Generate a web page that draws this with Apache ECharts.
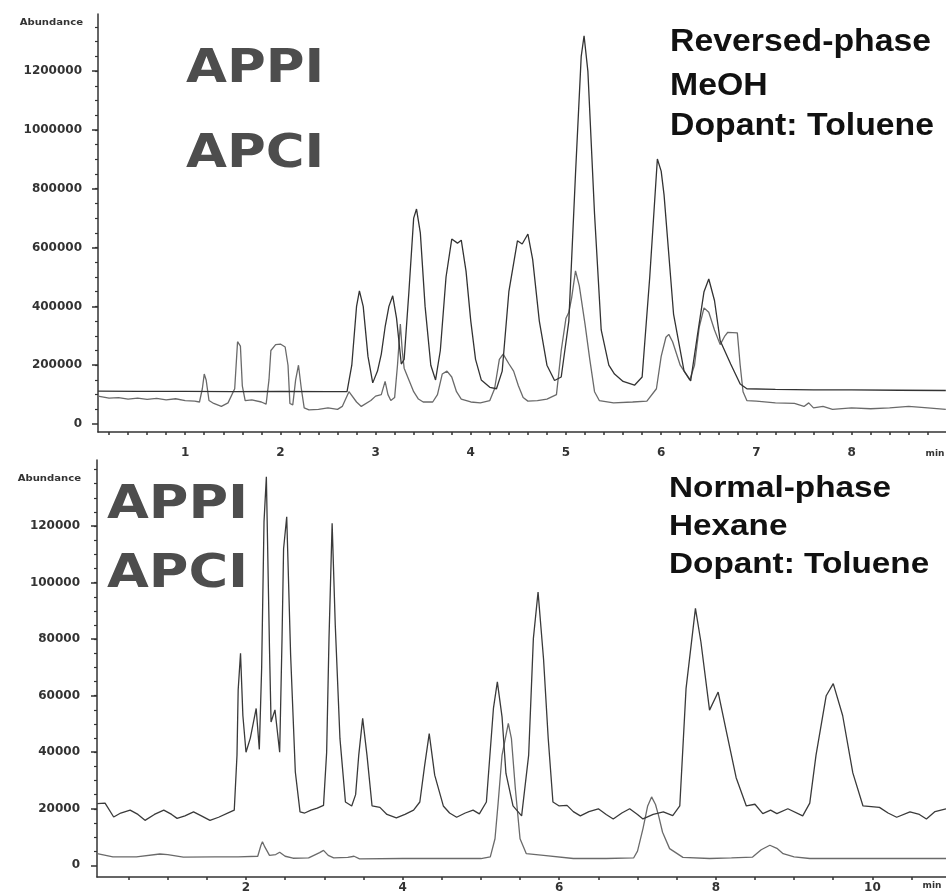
<!DOCTYPE html>
<html>
<head>
<meta charset="utf-8">
<script src="https://cdn.jsdelivr.net/npm/echarts@6/dist/echarts.min.js"></script>
<style>
  html, body { margin: 0; padding: 0; background: #fff; }
  #chart { width: 946px; height: 894px; }
</style>
</head>
<body>
<div id="chart"></div>
<script>
// reversed-phase run (MeOH), [time min, abundance]
const rpAppi = [
  [0.084, 112000], [0.5, 111000], [1.0, 111000], [1.5, 110000], [2.0, 111000], [2.5, 110000], [2.7, 110000],
  [2.75, 200000], [2.8, 400000], [2.83, 453000], [2.87, 400000], [2.92, 230000], [2.97, 140000], [3.02, 180000],
  [3.06, 238000], [3.1, 330000], [3.14, 400000], [3.18, 436000], [3.22, 360000], [3.27, 204000], [3.3, 220000],
  [3.35, 450000], [3.4, 700000], [3.43, 731000], [3.47, 650000], [3.52, 400000], [3.58, 200000], [3.63, 150000],
  [3.68, 250000], [3.74, 500000], [3.8, 629000], [3.86, 615000], [3.9, 625000], [3.95, 520000], [4.0, 350000],
  [4.05, 220000], [4.11, 150000], [4.2, 125000], [4.27, 120000], [4.33, 180000], [4.4, 450000], [4.49, 623000],
  [4.54, 612000], [4.6, 646000], [4.65, 560000], [4.72, 350000], [4.8, 200000], [4.88, 148000], [4.95, 160000],
  [5.03, 350000], [5.1, 850000], [5.16, 1250000], [5.19, 1320000], [5.23, 1200000], [5.3, 714000], [5.37, 320000],
  [5.45, 200000], [5.51, 170000], [5.6, 145000], [5.72, 132000], [5.8, 160000], [5.88, 500000], [5.96, 901000],
  [6.0, 860000], [6.03, 780000], [6.13, 374000], [6.24, 181000], [6.31, 147000], [6.38, 300000], [6.45, 450000],
  [6.5, 493000], [6.56, 420000], [6.62, 283000], [6.73, 204000], [6.83, 136000], [6.9, 120000], [7.2, 118000],
  [7.6, 116000], [8.0, 116000], [8.5, 115000], [8.99, 114000]
]
const rpApci = [
  [0.084, 95000], [0.2, 88000], [0.3, 90000], [0.4, 85000], [0.5, 88000], [0.6, 84000], [0.7, 87000], [0.8, 82000],
  [0.9, 86000], [1.0, 80000], [1.1, 78000], [1.15, 75000], [1.18, 120000], [1.2, 170000], [1.22, 150000],
  [1.25, 80000], [1.3, 70000], [1.38, 60000], [1.45, 72000], [1.52, 120000], [1.55, 280000], [1.58, 265000],
  [1.6, 130000], [1.63, 80000], [1.7, 82000], [1.8, 75000], [1.85, 68000], [1.88, 150000], [1.9, 250000],
  [1.95, 270000], [2.0, 272000], [2.05, 262000], [2.08, 200000], [2.1, 70000], [2.13, 65000], [2.16, 150000],
  [2.19, 200000], [2.22, 120000], [2.25, 55000], [2.3, 48000], [2.4, 50000], [2.5, 55000], [2.6, 50000],
  [2.65, 60000], [2.72, 110000], [2.8, 75000], [2.85, 60000], [2.95, 80000], [3.0, 95000], [3.06, 100000],
  [3.1, 145000], [3.13, 100000], [3.16, 80000], [3.2, 90000], [3.23, 200000], [3.26, 340000], [3.28, 250000],
  [3.3, 190000], [3.35, 150000], [3.4, 110000], [3.45, 85000], [3.5, 75000], [3.6, 75000], [3.65, 100000],
  [3.7, 170000], [3.75, 180000], [3.8, 160000], [3.85, 110000], [3.9, 85000], [4.0, 75000], [4.1, 72000],
  [4.2, 80000], [4.25, 120000], [4.3, 220000], [4.34, 238000], [4.4, 205000], [4.45, 180000], [4.5, 130000],
  [4.55, 90000], [4.6, 78000], [4.7, 80000], [4.8, 85000], [4.9, 100000], [4.95, 250000], [5.0, 360000],
  [5.03, 380000], [5.06, 430000], [5.1, 521000], [5.14, 470000], [5.2, 340000], [5.25, 220000], [5.3, 110000],
  [5.35, 80000], [5.5, 72000], [5.7, 75000], [5.85, 78000], [5.95, 120000], [6.0, 230000], [6.05, 295000],
  [6.08, 305000], [6.12, 280000], [6.2, 200000], [6.3, 150000], [6.35, 200000], [6.4, 330000], [6.45, 395000],
  [6.5, 380000], [6.56, 320000], [6.62, 270000], [6.67, 300000], [6.7, 312000], [6.8, 310000], [6.83, 200000],
  [6.86, 110000], [6.9, 80000], [7.0, 78000], [7.2, 72000], [7.4, 70000], [7.5, 60000], [7.55, 72000],
  [7.6, 55000], [7.7, 60000], [7.8, 50000], [8.0, 55000], [8.2, 52000], [8.4, 55000], [8.6, 60000],
  [8.8, 55000], [8.99, 50000]
]

// normal-phase run (hexane)
const npAppi = [
  [0.1, 21800], [0.2, 22000], [0.31, 17100], [0.4, 18500], [0.52, 19500], [0.62, 18000], [0.71, 15900],
  [0.83, 18000], [0.95, 19500], [1.05, 18000], [1.12, 16600], [1.22, 17500], [1.33, 18900], [1.43, 17500],
  [1.54, 15900], [1.65, 17000], [1.8, 18900], [1.85, 19500], [1.885, 39000], [1.9, 62000], [1.93, 75000],
  [1.96, 53000], [2.0, 40000], [2.055, 45000], [2.13, 55500], [2.17, 41000], [2.2, 70000], [2.23, 121500],
  [2.26, 137500], [2.3, 76700], [2.32, 50700], [2.37, 55000], [2.43, 40000], [2.46, 80000], [2.48, 112000],
  [2.52, 123300], [2.57, 74300], [2.63, 33000], [2.69, 18900], [2.75, 18500], [2.83, 19500], [2.91, 20200],
  [2.99, 21200], [3.03, 40000], [3.06, 80200], [3.1, 121000], [3.14, 85000], [3.2, 44800], [3.27, 22400],
  [3.35, 21000], [3.4, 25000], [3.44, 39000], [3.49, 52000], [3.545, 39000], [3.61, 21000], [3.71, 20500],
  [3.8, 18000], [3.92, 16800], [4.03, 18000], [4.14, 19500], [4.22, 22400], [4.28, 35000], [4.34, 46600],
  [4.41, 31900], [4.52, 21000], [4.6, 18500], [4.69, 17000], [4.8, 18500], [4.9, 19500], [4.98, 18200],
  [5.07, 22400], [5.16, 55500], [5.21, 64900], [5.27, 52500], [5.32, 32500], [5.41, 21000], [5.52, 17500],
  [5.61, 39000], [5.67, 80200], [5.73, 96700], [5.8, 73000], [5.86, 44800], [5.92, 22400], [6.0, 21000],
  [6.1, 21200], [6.18, 19000], [6.27, 17500], [6.38, 19000], [6.5, 20000], [6.6, 18000], [6.69, 16400],
  [6.8, 18500], [6.9, 20000], [7.0, 18000], [7.07, 16400], [7.2, 18000], [7.33, 18900], [7.45, 17600],
  [7.54, 21000], [7.62, 62500], [7.74, 90900], [7.81, 79000], [7.92, 54900], [8.03, 61300], [8.13, 48000],
  [8.26, 31000], [8.39, 21000], [8.5, 21600], [8.6, 18300], [8.7, 19500], [8.78, 18300], [8.92, 20000],
  [9.11, 17500], [9.2, 22000], [9.28, 39000], [9.41, 60000], [9.5, 64300], [9.62, 53000], [9.75, 32700],
  [9.88, 21000], [10.09, 20500], [10.2, 18500], [10.31, 17000], [10.48, 18900], [10.6, 18000], [10.69, 16400],
  [10.8, 19000], [10.94, 20000]
]
const npApci = [
  [0.1, 4100], [0.3, 3000], [0.6, 3000], [0.9, 4000], [1.0, 3800], [1.2, 2900], [1.6, 3000], [1.9, 3000],
  [2.15, 3200], [2.19, 7000], [2.21, 8300], [2.24, 6500], [2.3, 3500], [2.38, 3800], [2.43, 4600], [2.5, 3200],
  [2.6, 2500], [2.8, 2600], [2.94, 4500], [2.99, 5300], [3.05, 3500], [3.12, 2600], [3.3, 2800], [3.38, 3200],
  [3.45, 2300], [4.0, 2400], [4.5, 2400], [5.0, 2400], [5.12, 3000], [5.18, 9400], [5.22, 22000], [5.27, 39000],
  [5.35, 50200], [5.39, 44800], [5.44, 27100], [5.5, 9400], [5.58, 4100], [5.8, 3500], [6.18, 2400],
  [6.6, 2400], [6.95, 2600], [7.0, 5000], [7.07, 13000], [7.13, 21000], [7.18, 24200], [7.23, 21500],
  [7.27, 17500], [7.32, 11700], [7.41, 5900], [7.58, 2800], [7.92, 2400], [8.2, 2600], [8.47, 2900],
  [8.58, 5500], [8.69, 7100], [8.78, 6000], [8.86, 4100], [9.0, 3000], [9.2, 2400], [10.0, 2400], [10.94, 2400]
]

const topXLabels = [1, 2, 3, 4, 5, 6, 7, 8]
const topYLabels = [0, 200000, 400000, 600000, 800000, 1000000, 1200000]
const botXLabels = [2, 4, 6, 8, 10]
const botYLabels = [0, 20000, 40000, 60000, 80000, 100000, 120000]

function steps(from, to, step) {
  const out = []
  for (let v = from; v <= to + step / 2; v += step) out.push(+v.toFixed(4))
  return out
}

const ink = '#333'
const labelFont = {
  fontFamily: 'DejaVu Sans', fontWeight: 'bold', fontSize: 12, color: ink,
  formatter: (v) => String(v),
}

function xAxisFor(grid, min, max, ticks, labels, margin) {
  return {
    type: 'value', gridIndex: grid, min: min, max: max,
    axisLine: { show: true, onZero: false, lineStyle: { color: ink, width: 1.5 } },
    axisTick: { show: true, customValues: ticks, length: 3, lineStyle: { color: ink, width: 1.5 } },
    axisLabel: Object.assign({ customValues: labels, margin: margin }, labelFont),
    splitLine: { show: false },
  }
}
function yAxesFor(grid, min, max, labels, minor, margin) {
  return [
    {
      type: 'value', gridIndex: grid, min: min, max: max, position: 'left',
      axisLine: { show: true, lineStyle: { color: ink, width: 1.5 } },
      axisTick: { show: true, customValues: labels, length: 6, lineStyle: { color: ink, width: 1.5 } },
      axisLabel: Object.assign({ customValues: labels, margin: margin }, labelFont),
      splitLine: { show: false },
    },
    {
      type: 'value', gridIndex: grid, min: min, max: max, position: 'left',
      axisLine: { show: false },
      axisTick: { show: true, customValues: minor, length: 3, lineStyle: { color: ink, width: 1.2 } },
      axisLabel: { show: false },
      splitLine: { show: false },
    },
  ]
}

function trace(data, xi, yi, color) {
  return {
    type: 'line', data: data, xAxisIndex: xi, yAxisIndex: yi,
    showSymbol: false, symbol: 'none', silent: true,
    lineStyle: { color: color, width: 1.3 },
  }
}

function txt(text, x, y, size, opts) {
  return Object.assign({
    type: 'text', x: x, y: y, silent: true,
    style: Object.assign({
      text: text, fontSize: size, fontFamily: 'Liberation Sans', fontWeight: 'bold',
      fill: '#111', align: 'left', verticalAlign: 'middle',
    }, opts && opts.style),
  }, opts && opts.el)
}

const bigLabel = { style: { fontFamily: 'DejaVu Sans', fill: '#4d4d4d' }, el: { scaleX: 1.15 } }
const smallLabel = { style: { fontFamily: 'DejaVu Sans', fill: ink, align: 'right' }, el: { scaleX: 1.12 } }
const minLabel = { style: { fontFamily: 'DejaVu Sans', fill: ink, align: 'center' } }

const chart = echarts.init(document.getElementById('chart'))
chart.setOption({
  animation: false,
  backgroundColor: '#fff',
  grid: [
    { left: 98, top: 14, width: 848, height: 418 },
    { left: 97, top: 460, width: 849, height: 417 },
  ],
  xAxis: [
    xAxisFor(0, 0.084, 8.992, steps(0.2, 8.8, 0.2), topXLabels, 15),
    xAxisFor(1, 0.097, 10.94, steps(0.5, 10.5, 0.5), botXLabels, 5),
  ],
  yAxis: [
    ...yAxesFor(0, -27000, 1394000, topYLabels, steps(50000, 1350000, 50000), 16),
    ...yAxesFor(1, -4140, 143400, botYLabels, steps(5000, 140000, 5000), 17),
  ],
  series: [
    trace(rpApci, 0, 0, '#6a6a6a'),
    trace(rpAppi, 0, 0, '#333'),
    trace(npApci, 1, 2, '#6a6a6a'),
    trace(npAppi, 1, 2, '#3a3a3a'),
  ],
  graphic: [
    txt('Abundance', 83, 23, 9, smallLabel),
    txt('Abundance', 81, 479, 9, smallLabel),
    txt('min', 935, 454, 9, minLabel),
    txt('min', 932, 886, 9, minLabel),
    txt('APPI', 186, 70, 46, bigLabel),
    txt('APCI', 186, 155, 46, bigLabel),
    txt('APPI', 107, 506, 47, bigLabel),
    txt('APCI', 107, 575, 47, bigLabel),
    txt('Reversed-phase', 670, 42, 31, { el: { scaleX: 1.09 } }),
    txt('MeOH', 670, 86, 31, { el: { scaleX: 1.09 } }),
    txt('Dopant: Toluene', 670, 126, 31, { el: { scaleX: 1.09 } }),
    txt('Normal-phase', 669, 489, 30, { el: { scaleX: 1.11 } }),
    txt('Hexane', 669, 527, 30, { el: { scaleX: 1.11 } }),
    txt('Dopant: Toluene', 669, 565, 30, { el: { scaleX: 1.11 } }),
  ],
})
</script>
</body>
</html>
